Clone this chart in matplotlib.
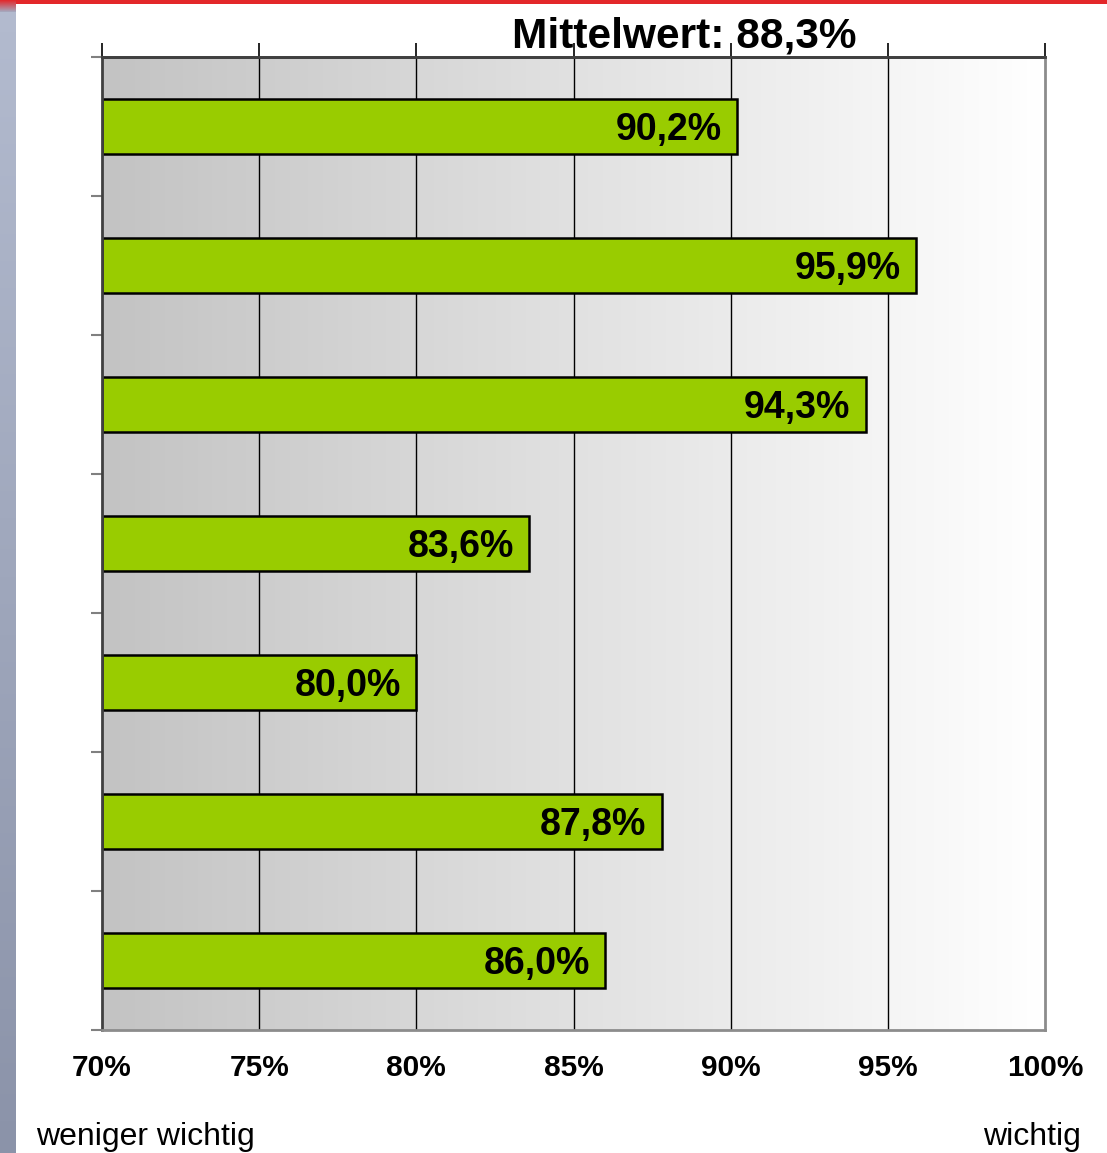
import numpy as np
import matplotlib
matplotlib.use("Agg")
import matplotlib.pyplot as plt
from matplotlib.colors import LinearSegmentedColormap

plt.rcParams['font.family'] = ['Liberation Sans', 'DejaVu Sans']

# data, top to bottom
values = [90.2, 95.9, 94.3, 83.6, 80.0, 87.8, 86.0]
value_labels = ["90,2%", "95,9%", "94,3%", "83,6%", "80,0%", "87,8%", "86,0%"]
x_ticks = [70, 75, 80, 85, 90, 95, 100]
x_tick_labels = ["70%", "75%", "80%", "85%", "90%", "95%", "100%"]
title = "Mittelwert: 88,3%"
left_note = "weniger wichtig"
right_note = "wichtig"

W, H = 1107, 1153
fig = plt.figure(figsize=(W / 100, H / 100), dpi=100)

# left decorative strip
strip = fig.add_axes([0, 0, 16 / W, 1])
strip.axis('off')
strip_cmap = LinearSegmentedColormap.from_list('strip', ['#8b93a9', '#b3bbcf'])
strip.imshow(np.linspace(0, 1, 256).reshape(-1, 1), cmap=strip_cmap, aspect='auto',
             origin='lower', extent=[0, 1, 0, 1])
# red top line
red = fig.add_axes([0, 1 - 4 / H, 1, 4 / H])
red.axis('off')
red.add_patch(plt.Rectangle((0, 0), 1, 1, color='#e3272a', transform=red.transAxes))
red2 = fig.add_axes([0, 1 - 12 / H, 16 / W, 12 / H])
red2.axis('off')
red_cmap = LinearSegmentedColormap.from_list('red', ['#a4aac0', '#e3272a'])
red2.imshow(np.linspace(0, 1, 64).reshape(-1, 1), cmap=red_cmap, aspect='auto',
            origin='lower', extent=[0, 1, 0, 1])

ax = fig.add_axes([102 / W, (H - 1030) / H, 943 / W, 973 / H])

# horizontal gradient background
bg_cmap = LinearSegmentedColormap.from_list('bg', ['#c3c3c3', '#ffffff'])
ax.imshow(np.linspace(0, 1, 256).reshape(1, -1), cmap=bg_cmap, aspect='auto',
          extent=[70, 100, 6.5, -0.5], zorder=0)

for x in x_ticks[1:-1]:
    ax.axvline(x, color='black', lw=1, zorder=1)

y = np.arange(len(values))
ax.barh(y, np.array(values) - 70, left=70, height=0.4, color='#99cc00',
        edgecolor='black', linewidth=1.8, zorder=2)

for yi, v, lab in zip(y, values, value_labels):
    ax.annotate(lab, (v, yi), xytext=(-11, -2.5), textcoords='offset points',
                ha='right', va='center', fontsize=27, fontweight='bold', zorder=3)

ax.set_xlim(70, 100)
ax.set_ylim(6.5, -0.5)

ax.set_xticks(x_ticks)
ax.set_xticklabels(x_tick_labels, fontsize=21.5, fontweight='bold')
ax.tick_params(axis='x', length=0, pad=17)

ax.set_yticks(np.arange(-0.5, 7, 1))
ax.set_yticklabels([])
ax.tick_params(axis='y', length=8, width=1.5, color='#808080', direction='out')

top = ax.secondary_xaxis('top')
top.set_xticks(x_ticks)
top.set_xticklabels([])
top.tick_params(length=10, width=1.2, color='black', direction='out')
top.spines['top'].set_color('#404040')
top.spines['top'].set_linewidth(2)

ax.spines['left'].set_color('#404040')
ax.spines['left'].set_linewidth(2)
ax.spines['top'].set_color('#404040')
ax.spines['top'].set_linewidth(2)
ax.spines['right'].set_color('#8c8c8c')
ax.spines['right'].set_linewidth(2)
ax.spines['bottom'].set_color('#8c8c8c')
ax.spines['bottom'].set_linewidth(2)

fig.text(684 / W, 1 - 48 / H, title, ha='center', va='baseline', fontsize=30.5,
         fontweight='bold')
fig.text(36 / W, 1 - 1145 / H, left_note, ha='left', va='baseline', fontsize=23)
fig.text(1081 / W, 1 - 1145 / H, right_note, ha='right', va='baseline', fontsize=23)

fig.savefig('out.png', dpi=100)
